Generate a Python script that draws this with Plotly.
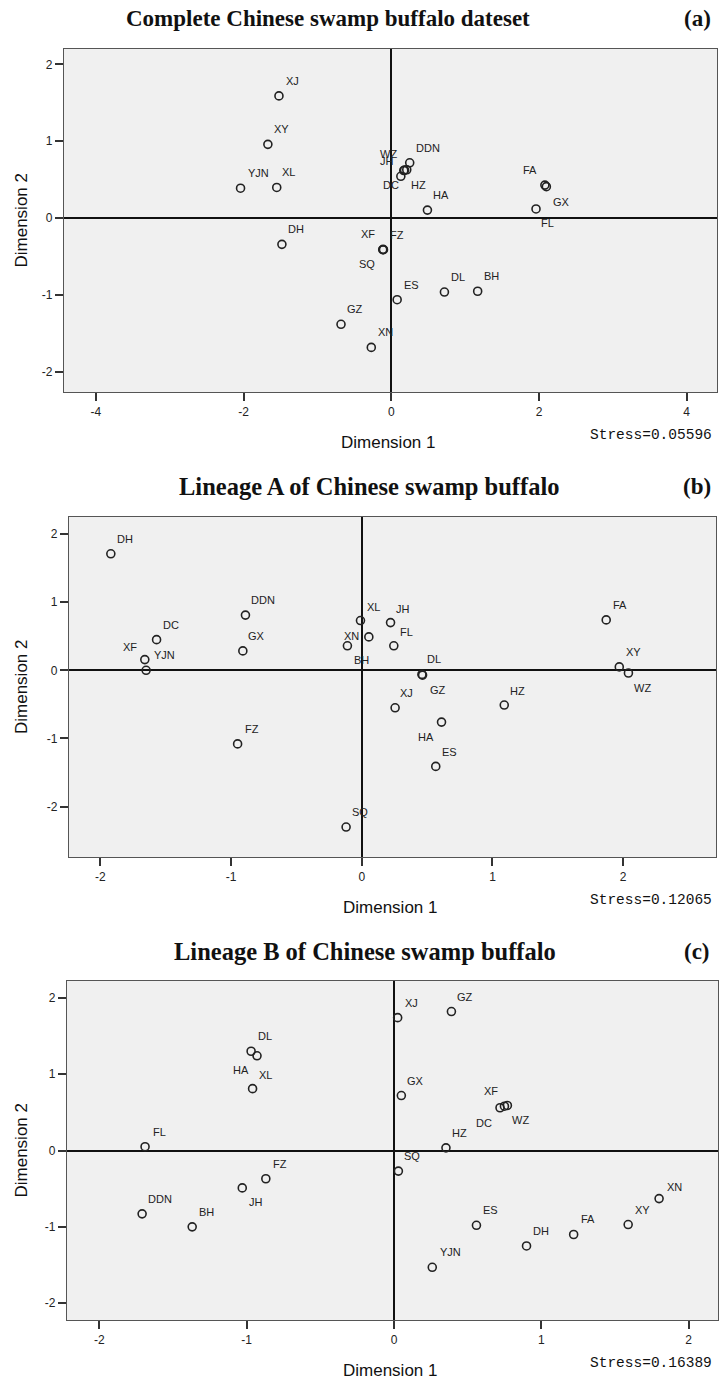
import plotly.graph_objects as go

W, H = 727, 1386

# ---------------- data ----------------
# Panel (a): complete dataset
labels_a = ["XJ", "XY", "YJN", "XL", "DH", "DDN", "WZ", "HZ", "JH", "DC", "HA",
            "XF", "FZ", "SQ", "ES", "DL", "BH", "GZ", "XN", "FA", "GX", "FL"]
dim1_a = [-1.52, -1.67, -2.04, -1.55, -1.48, 0.25, 0.21, 0.17, 0.18, 0.13, 0.49,
          -0.115, -0.11, -0.105, 0.08, 0.72, 1.17, -0.68, -0.27, 2.08, 2.10, 1.96]
dim2_a = [1.59, 0.96, 0.39, 0.40, -0.34, 0.72, 0.63, 0.62, 0.625, 0.545, 0.105,
          -0.41, -0.405, -0.41, -1.06, -0.96, -0.95, -1.38, -1.68, 0.43, 0.41, 0.12]
stress_a = "Stress=0.05596"
title_a = "Complete Chinese swamp buffalo dateset"

# Panel (b): lineage A
labels_b = ["DH", "DDN", "DC", "GX", "XF", "YJN", "FZ", "SQ", "XL", "XN", "BH",
            "JH", "FL", "DL", "GZ", "XJ", "HA", "ES", "HZ", "FA", "XY", "WZ"]
dim1_b = [-1.92, -0.89, -1.57, -0.91, -1.66, -1.65, -0.95, -0.12, -0.01, 0.054, -0.11,
          0.22, 0.245, 0.46, 0.465, 0.255, 0.61, 0.566, 1.09, 1.87, 1.97, 2.04]
dim2_b = [1.71, 0.81, 0.45, 0.285, 0.157, 0.0, -1.08, -2.30, 0.73, 0.49, 0.36,
          0.70, 0.36, -0.06, -0.07, -0.55, -0.76, -1.41, -0.51, 0.74, 0.05, -0.04]
stress_b = "Stress=0.12065"
title_b = "Lineage A of Chinese swamp buffalo"

# Panel (c): lineage B
labels_c = ["XJ", "GZ", "DL", "HA", "XL", "GX", "XF", "DC", "WZ", "HZ", "FL",
            "SQ", "FZ", "JH", "DDN", "BH", "ES", "YJN", "DH", "FA", "XY", "XN"]
dim1_c = [0.025, 0.39, -0.97, -0.93, -0.96, 0.05, 0.75, 0.72, 0.77, 0.353, -1.69,
          0.03, -0.87, -1.03, -1.71, -1.37, 0.56, 0.26, 0.90, 1.22, 1.59, 1.80]
dim2_c = [1.74, 1.82, 1.30, 1.24, 0.81, 0.72, 0.58, 0.56, 0.59, 0.035, 0.05,
          -0.27, -0.37, -0.49, -0.83, -1.00, -0.98, -1.53, -1.25, -1.10, -0.97, -0.63]
stress_c = "Stress=0.16389"
title_c = "Lineage B of Chinese swamp buffalo"

# ---------------- label placement (pixel offsets of label centre, dy down) ----------------
D2 = (14, -15)
D3 = (18, -15)
off_a = {"XJ": D2, "XY": D2, "YJN": D3, "XL": (12, -15), "DH": D2, "DDN": D3,
         "WZ": (-18, -16), "HZ": (15, 14), "JH": (-18, -9), "DC": (-10, 9), "HA": D2,
         "XF": (-15, -16), "FZ": (14, -14), "SQ": (-16, 14), "ES": D2, "DL": D2,
         "BH": D2, "GZ": D2, "XN": D2, "FA": (-15, -15), "GX": (15, 15), "FL": (11, 14)}
off_b = {"DH": D2, "DDN": D3, "DC": D2, "GX": D2, "XF": (-15, -13), "YJN": D3,
         "FZ": D2, "SQ": D2, "XL": (13, -14), "XN": (-17, -1), "BH": (14, 14),
         "JH": (12, -14), "FL": (13, -14), "DL": (12, -15), "GZ": (15, 15),
         "XJ": (11, -15), "HA": (-16, 15), "ES": (14, -14), "HZ": (13, -14),
         "FA": D2, "XY": D2, "WZ": (14, 15)}
off_c = {"XJ": D2, "GZ": D2, "DL": D2, "HA": (-16, 14), "XL": (13, -14), "GX": D2,
         "XF": (-13, -15), "DC": (-16, 15), "WZ": (13, 15), "HZ": D2, "FL": D2,
         "SQ": D2, "FZ": D2, "JH": (14, 14), "DDN": D3, "BH": D2, "ES": D2,
         "YJN": D3, "DH": D2, "FA": D2, "XY": D2, "XN": (15, -12)}

# ---------------- geometry (pixels) ----------------
panels = [
    dict(lab=labels_a, x=dim1_a, y=dim2_a, off=off_a, stress=stress_a, title=title_a, tag="(a)",
         px=(64, 717), py=(49, 392), xr=[-4.43, 4.41], yr=[-2.26, 2.2],
         xt=[-4, -2, 0, 2, 4], title_x=328, tag_x=697, tsize=23),
    dict(lab=labels_b, x=dim1_b, y=dim2_b, off=off_b, stress=stress_b, title=title_b, tag="(b)",
         px=(69, 716), py=(517, 857), xr=[-2.24, 2.71], yr=[-2.74, 2.25],
         xt=[-2, -1, 0, 1, 2], title_x=369, tag_x=697, tsize=24.5),
    dict(lab=labels_c, x=dim1_c, y=dim2_c, off=off_c, stress=stress_c, title=title_c, tag="(c)",
         px=(67, 718), py=(981, 1320), xr=[-2.22, 2.2], yr=[-2.22, 2.22],
         xt=[-2, -1, 0, 1, 2], title_x=365, tag_x=697, tsize=24.5),
]
yt = [-2, -1, 0, 1, 2]

fig = go.Figure()
annotations = []
label_font = dict(family="Liberation Sans, Arial", size=11, color="#222")
tick_font = dict(family="Liberation Sans, Arial", size=12, color="#222")
axis_title_font = dict(family="Liberation Sans, Arial", size=17, color="#111")

for i, p in enumerate(panels):
    n = "" if i == 0 else str(i + 1)
    xa, ya = "x" + n, "y" + n
    fig.add_trace(go.Scatter(
        x=p["x"], y=p["y"], mode="markers", xaxis=xa, yaxis=ya,
        marker=dict(symbol="circle-open", size=8, color="#222", line=dict(width=1.6, color="#222")),
        showlegend=False, hoverinfo="text", text=p["lab"],
    ))
    x0, x1 = p["px"]
    y0, y1 = p["py"]
    dom_x = [x0 / W, x1 / W]
    dom_y = [1 - y1 / H, 1 - y0 / H]
    axis_common = dict(showgrid=False, zeroline=True, zerolinecolor="#111", zerolinewidth=1.6,
                       showline=True, linecolor="#555", linewidth=1.3, mirror=True,
                       ticks="outside", ticklen=8, tickwidth=1.6, tickcolor="#333",
                       tickfont=tick_font, fixedrange=True)
    fig.update_layout(**{
        ("xaxis" + n): dict(domain=dom_x, range=p["xr"], tickmode="array",
                             tickvals=p["xt"], ticktext=[str(v) for v in p["xt"]],
                             anchor=ya, **axis_common),
        ("yaxis" + n): dict(domain=dom_y, range=p["yr"], tickmode="array",
                             tickvals=yt, ticktext=[str(v) for v in yt],
                             anchor=xa, **axis_common),
    })
    for lab, xv, yv in zip(p["lab"], p["x"], p["y"]):
        dx, dy = p["off"][lab]
        annotations.append(dict(x=xv, y=yv, xref=xa, yref=ya, text=lab, showarrow=False,
                                xanchor="center", yanchor="middle", xshift=dx, yshift=-dy,
                                font=label_font))
    # title and tag
    ty = y0 - 30
    tfont = dict(family="Liberation Serif, Times New Roman", size=p["tsize"], color="#111")
    annotations.append(dict(x=p["title_x"] / W, y=1 - ty / H, xref="paper", yref="paper",
                            text="<b>" + p["title"] + "</b>", showarrow=False,
                            xanchor="center", yanchor="middle", font=tfont))
    annotations.append(dict(x=p["tag_x"] / W, y=1 - ty / H, xref="paper", yref="paper",
                            text="<b>" + p["tag"] + "</b>", showarrow=False,
                            xanchor="center", yanchor="middle",
                            font=dict(family="Liberation Serif, Times New Roman", size=23, color="#111")))
    # axis titles
    annotations.append(dict(x=((x0 + x1) / 2 - 2) / W, y=1 - (y1 + 50) / H, xref="paper", yref="paper",
                            text="Dimension 1", showarrow=False, xanchor="center", yanchor="middle",
                            font=axis_title_font))
    annotations.append(dict(x=21 / W, y=1 - ((y0 + y1) / 2) / H, xref="paper", yref="paper",
                            text="Dimension 2", showarrow=False, textangle=-90,
                            xanchor="center", yanchor="middle", font=axis_title_font))
    annotations.append(dict(x=714 / W, y=1 - (y1 + 43) / H, xref="paper", yref="paper",
                            text=p["stress"], showarrow=False, xanchor="right", yanchor="middle",
                            font=dict(family="Liberation Mono, DejaVu Sans Mono", size=14.5, color="#111")))

fig.update_layout(
    width=W, height=H, margin=dict(l=0, r=0, t=0, b=0),
    paper_bgcolor="white", plot_bgcolor="#f0f0f0",
    annotations=annotations, showlegend=False,
)

fig.write_html("out.html", config={"displayModeBar": False},
               post_script="document.body.style.margin='0';document.body.style.overflow='hidden';")
